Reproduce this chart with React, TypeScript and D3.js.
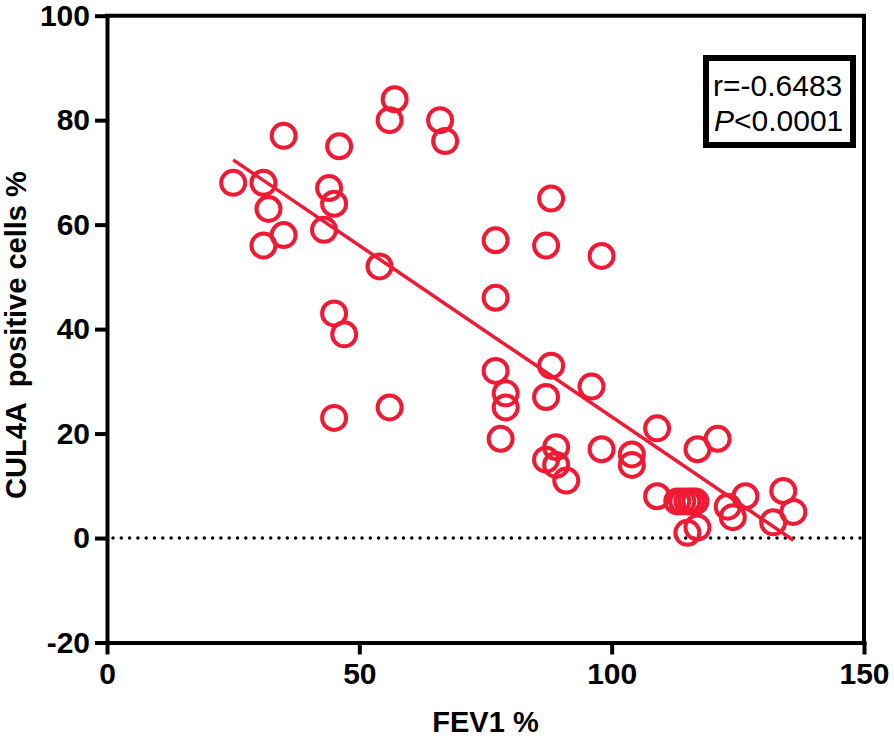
import React, { useEffect, useRef } from 'react';
import * as d3 from 'd3';

// FEV1 % vs CUL4A positive cells %
const fev1 = [
  25, 31, 32, 31, 35, 35, 44, 43, 45, 46, 45, 47, 45, 54, 56, 57, 56, 66, 67,
  77, 77, 77, 79, 79, 78, 88, 87, 88, 87, 87, 89, 89, 91, 98, 96, 98, 104, 104,
  109, 109, 113, 114, 115, 115.8, 116.6, 115, 117, 117, 121, 123, 124, 126.5,
  132, 134, 136,
];
const cul4a = [
  68, 68, 63, 56, 58, 77, 67, 59, 64, 75, 43, 39, 23, 52, 80, 84, 25, 80, 76,
  57, 46, 32, 27.7, 25, 19, 65, 56, 33, 27, 15, 17.4, 14, 11, 54, 29, 17, 16, 14,
  21, 8, 7, 7, 7, 7, 7, 1, 2, 17, 19, 6, 4, 8,
  3, 9, 5,
];

const xTicks = [0, 50, 100, 150];
const yTicks = [-20, 0, 20, 40, 60, 80, 100];

// fitted line as printed on the figure
const fitSlope = -0.656;
const fitIntercept = 88.8;
const fitRange = [25, 136];

const statLines = ['r=-0.6483', '<0.0001'];

const RED = '#f01a35';
const FONT = '"Liberation Sans", Arial, Helvetica, sans-serif';

const App: React.FC = () => {
  const ref = useRef<SVGSVGElement>(null);

  useEffect(() => {
    if (!ref.current) return;
    const svg = d3.select(ref.current);
    svg.selectAll('*').remove();

    const x = d3.scaleLinear().domain([0, 150]).range([107, 864]);
    const y = d3.scaleLinear().domain([-20, 100]).range([642.5, 15.7]);

    // frame top / right
    svg.append('path')
      .attr('d', `M${x(0)},${y(100)}H${x(150)}V${y(-20)}`)
      .attr('fill', 'none')
      .attr('stroke', '#000')
      .attr('stroke-width', 4)
      .attr('stroke-linecap', 'square');

    // y axis
    const gy = svg.append('g')
      .attr('transform', `translate(${x(0)},0)`)
      .call(d3.axisLeft(y).tickValues(yTicks).tickFormat(d => String(d))
        .tickSize(12).tickSizeOuter(0).tickPadding(5));
    gy.select('.domain').attr('stroke-width', 4).attr('stroke-linecap', 'square');
    gy.selectAll('.tick line').attr('stroke-width', 4);
    gy.selectAll('.tick text')
      .attr('font-family', FONT)
      .attr('font-weight', 'bold')
      .attr('font-size', 30)
      .attr('fill', '#000');

    // x axis
    const gx = svg.append('g')
      .attr('transform', `translate(0,${y(-20)})`)
      .call(d3.axisBottom(x).tickValues(xTicks).tickFormat(d => String(d))
        .tickSize(12).tickSizeOuter(0).tickPadding(8));
    gx.select('.domain').attr('stroke-width', 4).attr('stroke-linecap', 'square');
    gx.selectAll('.tick line').attr('stroke-width', 4);
    gx.selectAll('.tick text')
      .attr('font-family', FONT)
      .attr('font-weight', 'bold')
      .attr('font-size', 30)
      .attr('fill', '#000');

    // dotted zero line
    svg.append('line')
      .attr('x1', x(0) + 6)
      .attr('x2', x(150) - 2)
      .attr('y1', y(0))
      .attr('y2', y(0))
      .attr('stroke', '#000')
      .attr('stroke-width', 3.5)
      .attr('stroke-linecap', 'round')
      .attr('stroke-dasharray', '0 8.3');

    // regression line
    const line = d3.line<number>()
      .x(d => x(d))
      .y(d => y(fitIntercept + fitSlope * d));
    svg.append('path')
      .attr('d', line(fitRange))
      .attr('fill', 'none')
      .attr('stroke', RED)
      .attr('stroke-width', 3.5);

    // points
    svg.append('g')
      .selectAll('circle')
      .data(d3.range(fev1.length))
      .enter().append('circle')
      .attr('cx', i => x(fev1[i]))
      .attr('cy', i => y(cul4a[i]))
      .attr('r', 12)
      .attr('fill', 'none')
      .attr('stroke', RED)
      .attr('stroke-width', 4);

    // stats box
    svg.append('rect')
      .attr('x', 706)
      .attr('y', 58)
      .attr('width', 147)
      .attr('height', 87)
      .attr('fill', '#fff')
      .attr('stroke', '#000')
      .attr('stroke-width', 6);
    svg.append('text')
      .attr('x', 713)
      .attr('y', 96)
      .attr('font-family', FONT)
      .attr('font-size', 30)
      .text(statLines[0]);
    const t2 = svg.append('text')
      .attr('x', 714)
      .attr('y', 131)
      .attr('font-family', FONT)
      .attr('font-size', 30);
    t2.append('tspan').attr('font-style', 'italic').text('P');
    t2.append('tspan').text(statLines[1]);

    // axis titles
    svg.append('text')
      .attr('x', (x(0) + x(150)) / 2)
      .attr('y', 732)
      .attr('text-anchor', 'middle')
      .attr('font-family', FONT)
      .attr('font-weight', 'bold')
      .attr('font-size', 29)
      .text('FEV1 %');

    svg.append('text')
      .attr('transform', `translate(26,${(y(-20) + y(100)) / 2 + 6}) rotate(-90)`)
      .attr('text-anchor', 'middle')
      .attr('font-family', FONT)
      .attr('font-weight', 'bold')
      .attr('font-size', 29)
      .attr('xml:space', 'preserve')
      .style('white-space', 'pre')
      .text('CUL4A  positive cells %');
  }, []);

  return (
    <div style={{ position: 'absolute', left: 0, top: 0, background: '#fff' }}>
      <svg ref={ref} width={894} height={738}></svg>
    </div>
  );
};

export default App;
